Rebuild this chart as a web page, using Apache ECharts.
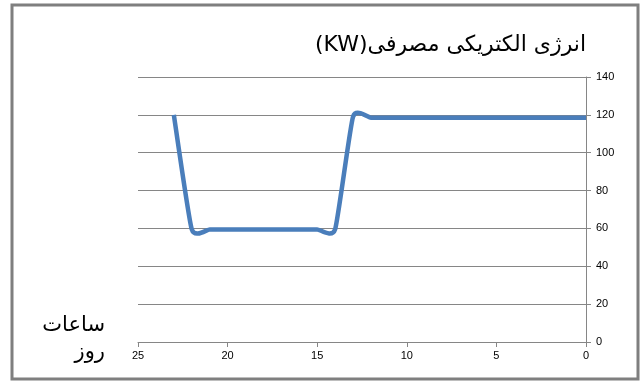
<!DOCTYPE html>
<html>
<head>
<meta charset="utf-8">
<script src="https://cdn.jsdelivr.net/npm/echarts@6/dist/echarts.min.js"></script>
<style>
  html, body { margin: 0; padding: 0; background: #fff; }
  #chart { width: 643px; height: 383px; }
</style>
</head>
<body>
<div id="chart"></div>
<script>
// Hours of the day (x) and consumed electric energy in kW (y)
const hours = [23, 22, 21, 20, 19, 18, 17, 16, 15, 14, 13, 12, 11, 10, 9, 8, 7, 6, 5, 4, 3, 2, 1, 0];
const powerKW = [120, 59.5, 59.5, 59.5, 59.5, 59.5, 59.5, 59.5, 59.5, 59.5, 119, 118.5, 118.5, 118.5, 118.5, 118.5, 118.5, 118.5, 118.5, 118.5, 118.5, 118.5, 118.5, 118.5];
const xTicks = [0, 5, 10, 15, 20, 25];
const yTicks = [0, 20, 40, 60, 80, 100, 120, 140];

// RTL embedding so the Persian title lays out right-to-left
const titleText = '\u202Bانرژی الکتریکی مصرفی(KW)\u202C';
const xAxisTitleLines = ['ساعات', 'روز'];

const points = hours.map((h, i) => [h, powerKW[i]]);

// Smoothed line (cardinal-spline Bezier) through the points mapped by the axes
const TENSION = 1 / 12;
function renderSmoothLine(params, api) {
  if (params.dataIndex !== 0) return null;
  const px = points.map(p => api.coord(p));
  const n = px.length;
  const pathParts = ['M' + px[0][0] + ' ' + px[0][1]];
  for (let i = 0; i < n - 1; i++) {
    const p0 = px[Math.max(i - 1, 0)];
    const p1 = px[i];
    const p2 = px[i + 1];
    const p3 = px[Math.min(i + 2, n - 1)];
    const c1x = p1[0] + (p2[0] - p0[0]) * TENSION;
    const c1y = p1[1] + (p2[1] - p0[1]) * TENSION;
    const c2x = p2[0] - (p3[0] - p1[0]) * TENSION;
    const c2y = p2[1] - (p3[1] - p1[1]) * TENSION;
    pathParts.push('C' + c1x + ' ' + c1y + ' ' + c2x + ' ' + c2y + ' ' + p2[0] + ' ' + p2[1]);
  }
  return {
    type: 'path',
    shape: { pathData: pathParts.join(' ') },
    style: { fill: 'none', stroke: '#4a7ebb', lineWidth: 4.5, lineJoin: 'round', lineCap: 'butt' }
  };
}

const chart = echarts.init(document.getElementById('chart'), null, { renderer: 'canvas' });
chart.setOption({
  backgroundColor: '#ffffff',
  animation: false,
  title: {
    text: titleText,
    right: 52,
    top: 29,
    textStyle: { fontFamily: 'DejaVu Sans', fontSize: 22, fontWeight: 'normal', color: '#000' }
  },
  grid: { left: 138, right: 57, top: 77, bottom: 41 },
  xAxis: {
    type: 'value',
    inverse: true,
    min: xTicks[0],
    max: xTicks[xTicks.length - 1],
    interval: 5,
    axisLine: { show: true, onZero: false, lineStyle: { color: '#868686', width: 1 } },
    axisTick: { show: true, length: 5, lineStyle: { color: '#868686' } },
    axisLabel: { color: '#000', fontSize: 11, fontFamily: 'Liberation Sans', margin: 8 },
    splitLine: { show: false }
  },
  yAxis: {
    type: 'value',
    position: 'right',
    min: yTicks[0],
    max: yTicks[yTicks.length - 1],
    interval: 20,
    axisLine: { show: true, lineStyle: { color: '#868686', width: 1 } },
    axisTick: { show: true, length: 5, lineStyle: { color: '#868686' } },
    axisLabel: { color: '#000', fontSize: 11, fontFamily: 'Liberation Sans', margin: 10 },
    splitLine: { show: true, lineStyle: { color: '#868686', width: 1 } }
  },
  series: [{
    type: 'custom',
    data: points,
    encode: { x: 0, y: 1 },
    clip: false,
    renderItem: renderSmoothLine
  }],
  graphic: [
    {
      type: 'rect',
      shape: { x: 12, y: 5, width: 626, height: 374 },
      style: { fill: 'none', stroke: '#7f7f7f', lineWidth: 3 },
      silent: true
    },
    {
      type: 'text',
      x: 105,
      y: 326,
      style: {
        text: xAxisTitleLines[0],
        fontFamily: 'DejaVu Sans',
        fontSize: 21,
        fill: '#000',
        align: 'right',
        verticalAlign: 'middle'
      },
      silent: true
    },
    {
      type: 'text',
      x: 105,
      y: 353,
      style: {
        text: xAxisTitleLines[1],
        fontFamily: 'DejaVu Sans',
        fontSize: 21,
        fill: '#000',
        align: 'right',
        verticalAlign: 'middle'
      },
      silent: true
    }
  ]
});
</script>
</body>
</html>
